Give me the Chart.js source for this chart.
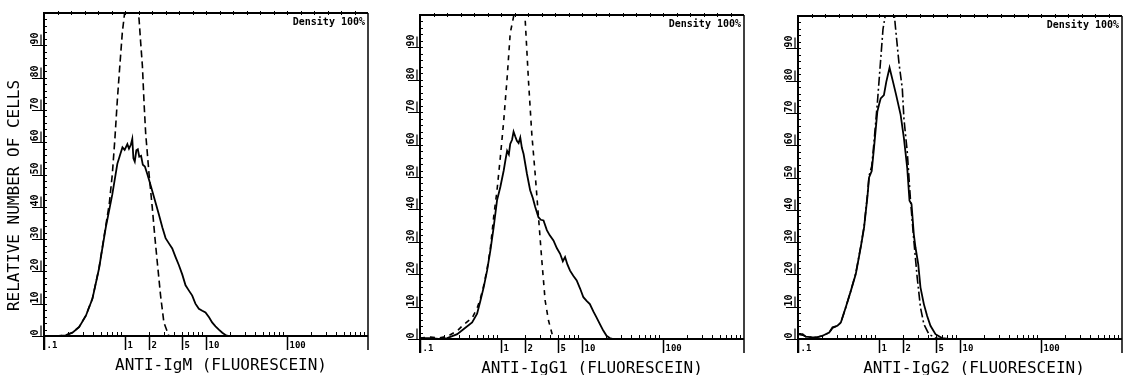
<!DOCTYPE html>
<html lang="en">
<head>
<meta charset="UTF-8">
<title>Anti-Ig fluorescein histograms</title>
<script src="https://cdn.jsdelivr.net/npm/chart.js"></script>
<style>
  body { margin: 0; background: #fff; }
  canvas { position: absolute; top: 0; }
</style>
</head>
<body>
<canvas id="igm" width="380" height="375" style="left:0px"></canvas>
<canvas id="igg1" width="380" height="375" style="left:380px"></canvas>
<canvas id="igg2" width="363" height="375" style="left:760px"></canvas>
<script>
// fluorescence (log scale) vs relative number of cells
const igmSolidX = [0.1, 0.15, 0.186, 0.224, 0.271, 0.328, 0.396, 0.478, 0.578, 0.698, 0.804, 0.88, 0.93, 0.99, 1.07, 1.12, 1.18, 1.23, 1.27, 1.32, 1.38, 1.44, 1.5, 1.58, 1.66, 1.76, 1.88, 2.0, 2.17, 2.4, 2.62, 2.9, 3.17, 3.5, 3.83, 4.2, 4.63, 5.1, 5.59, 6.1, 6.76, 7.4, 8.16, 9.0, 9.86, 10.9, 11.9, 13.1, 14.4, 15.9, 17.4, 19.0, 21.0, 1000];
const igmSolidY = [0, 0, 0.2, 1.0, 2.7, 6.2, 11.5, 20.9, 33.5, 43.9, 53.3, 56.5, 58.4, 57.6, 59.4, 58.0, 59.2, 61.0, 55.0, 54.0, 57.5, 57.8, 55.5, 55.8, 53.0, 52.5, 50.2, 48.0, 44.9, 41.0, 37.6, 33.5, 30.3, 28.6, 27.1, 24.5, 21.9, 19.0, 15.7, 14.2, 12.5, 10.0, 8.4, 7.8, 7.3, 5.8, 4.2, 3.0, 2.0, 1.0, 0.3, 0, 0, 0];
const igmCtrlX = [0.1, 0.15, 0.186, 0.224, 0.271, 0.328, 0.396, 0.478, 0.578, 0.64, 0.698, 0.75, 0.804, 0.865, 0.927, 1.0, 1.2, 1.42, 1.49, 1.56, 1.64, 1.72, 1.80, 1.98, 2.17, 2.35, 2.50, 2.75, 3.02, 3.48, 1000];
const igmCtrlY = [0, 0, 0.3, 1.1, 2.8, 6.3, 11.6, 21.0, 34.0, 41.0, 50.2, 61.0, 73.0, 84.0, 94.0, 101, 112, 101, 98.2, 91, 83.6, 72, 62.7, 50.2, 39.8, 30, 23.0, 12.5, 4.2, 0, 0];

const igg1SolidX = [0.1, 0.135, 0.17, 0.217, 0.288, 0.347, 0.44, 0.507, 0.557, 0.612, 0.673, 0.739, 0.813, 0.893, 0.981, 1.08, 1.14, 1.19, 1.25, 1.30, 1.37, 1.43, 1.50, 1.57, 1.65, 1.73, 1.81, 1.90, 2.09, 2.29, 2.47, 2.64, 2.90, 3.1, 3.35, 3.68, 4.0, 4.44, 4.9, 5.37, 5.8, 6.18, 6.6, 7.12, 7.8, 8.6, 9.5, 10.4, 11.4, 12.5, 13.8, 15.1, 16.7, 18.3, 20.1, 22, 24.3, 1000];
const igg1SolidY = [0.3, 0.3, 0, 0.3, 1.5, 3.1, 5.1, 7.8, 11.8, 16.0, 21.1, 27.3, 34.6, 42.8, 46.9, 52.0, 55.5, 58.1, 57.0, 60.2, 61.5, 64.0, 62.5, 61.2, 60.5, 62.2, 59.0, 57.1, 51.0, 45.9, 43.5, 40.8, 37.6, 36.8, 36.6, 33.6, 32.0, 30.4, 28.0, 26.3, 24.0, 25.3, 23.0, 21.1, 19.5, 18.1, 15.5, 12.9, 11.8, 10.8, 8.5, 6.7, 4.5, 2.6, 1.0, 0.3, 0, 0];
const igg1CtrlX = [0.1, 0.135, 0.17, 0.217, 0.288, 0.347, 0.44, 0.507, 0.557, 0.612, 0.673, 0.739, 0.813, 0.893, 0.981, 1.08, 1.19, 1.30, 1.43, 1.7, 1.99, 2.19, 2.40, 2.64, 2.90, 3.19, 3.51, 3.86, 4.44, 1000];
const igg1CtrlY = [0.3, 0.6, 0.3, 0.8, 2.5, 4.5, 6.5, 9.5, 12.5, 16.5, 21.5, 28.0, 37.8, 45.9, 56.1, 67.3, 80.6, 94.4, 99.5, 112, 98.4, 79.2, 63.3, 51.0, 37.8, 24.3, 11.8, 5.7, 0, 0];

const igg2SolidX = [0.1, 0.114, 0.125, 0.151, 0.175, 0.201, 0.243, 0.267, 0.307, 0.338, 0.389, 0.449, 0.517, 0.595, 0.654, 0.719, 0.754, 0.813, 0.868, 0.954, 1.0, 1.05, 1.15, 1.23, 1.35, 1.49, 1.63, 1.85, 2.03, 2.23, 2.38, 2.52, 2.69, 2.82, 3.05, 3.25, 3.58, 3.93, 4.32, 4.98, 6.01, 7.26, 1000];
const igg2SolidY = [1.5, 1.5, 0.7, 0.5, 0.6, 1.0, 2.0, 3.6, 4.1, 5.1, 9.8, 14.9, 20.1, 28.4, 34.5, 43.9, 50.0, 52.0, 59.2, 70.4, 72.5, 74.5, 75.5, 79.6, 84.0, 79.6, 75.5, 69.4, 62.2, 53.0, 42.8, 41.8, 32.4, 28.4, 23.2, 16.0, 10.8, 7.1, 4.1, 1.5, 0.3, 0, 0];
const igg2CtrlX = [0.1, 0.114, 0.125, 0.151, 0.175, 0.201, 0.243, 0.267, 0.307, 0.338, 0.389, 0.449, 0.517, 0.595, 0.654, 0.719, 0.754, 0.813, 0.868, 0.954, 1.05, 1.12, 1.21, 1.4, 1.60, 1.76, 1.94, 2.03, 2.23, 2.45, 2.69, 2.96, 3.25, 3.58, 4.12, 4.98, 6.0, 1000];
const igg2CtrlY = [1.5, 1.2, 0.7, 0.5, 0.6, 1.0, 2.0, 3.4, 4.1, 5.1, 9.8, 14.9, 20.4, 28.6, 34.8, 44.5, 50.5, 53.5, 61.0, 73.0, 86.7, 95.9, 101, 112, 96.3, 85.7, 77.5, 68.3, 58.1, 42.8, 30.6, 19.1, 9.8, 4.6, 1.5, 0.3, 0, 0];

const xTickValues = [0.1, 1, 2, 5, 10, 100];
const xTickLabels = ['.1', '1', '2', '5', '10', '100'];
const yTickValues = [0, 10, 20, 30, 40, 50, 60, 70, 80, 90];

function points(xs, ys) {
    return xs.map((x, i) => ({ x: x, y: ys[i] }));
}

// box, ticks and printed labels in the style of the cytometer printout
const frame = {
    id: 'frame',
    afterDraw(chart, args, opts) {
        const ctx = chart.ctx;
        const a = chart.chartArea;
        const xs = chart.scales.x;
        const ys = chart.scales.y;
        ctx.save();
        ctx.strokeStyle = '#000';
        ctx.fillStyle = '#000';

        ctx.lineWidth = 2;
        ctx.beginPath();
        ctx.moveTo(a.left - 1, a.top); ctx.lineTo(a.right, a.top);
        ctx.moveTo(a.left, a.top); ctx.lineTo(a.left, a.bottom + 14);
        ctx.moveTo(a.left - 1, a.bottom); ctx.lineTo(a.right, a.bottom);
        ctx.stroke();
        ctx.lineWidth = 1.5;
        ctx.beginPath();
        ctx.moveTo(a.right, a.top); ctx.lineTo(a.right, a.bottom + 14);
        ctx.stroke();

        // log minor ticks along the bottom
        ctx.lineWidth = 1;
        ctx.beginPath();
        [0.1, 1, 10, 100].forEach(d => {
            for (let k = 2; k <= 9; k++) {
                const px = Math.round(xs.getPixelForValue(k * d)) + 0.5;
                ctx.moveTo(px, a.bottom); ctx.lineTo(px, a.bottom - 4);
            }
        });
        // evenly spaced ticks along the top
        for (let k = 1; k < 24; k++) {
            const px = Math.round(xs.getPixelForValue(Math.pow(10, -1 + k / 6))) + 0.5;
            ctx.moveTo(px, a.top - 2); ctx.lineTo(px, a.top + 2);
        }
        ctx.stroke();

        // labelled x ticks
        ctx.lineWidth = 1.5;
        ctx.font = 'bold 9px "DejaVu Sans Mono"';
        ctx.textAlign = 'left';
        ctx.textBaseline = 'top';
        xTickValues.forEach((v, i) => {
            const px = Math.round(xs.getPixelForValue(v)) + 0.5;
            ctx.beginPath();
            ctx.moveTo(px, a.bottom); ctx.lineTo(px, a.bottom + 14);
            ctx.stroke();
            ctx.fillText(xTickLabels[i], px + 2, a.bottom + 5);
        });

        // y ticks: minor every 2, labelled every 10
        ctx.lineWidth = 1;
        ctx.beginPath();
        for (let v = 2; v < 100; v += 2) {
            const py = Math.round(ys.getPixelForValue(v)) + 0.5;
            ctx.moveTo(a.left, py); ctx.lineTo(a.left + 3, py);
        }
        ctx.stroke();
        ctx.lineWidth = 1.2;
        ctx.font = 'bold 10px "DejaVu Sans Mono"';
        ctx.textBaseline = 'middle';
        yTickValues.forEach(v => {
            const py = Math.round(ys.getPixelForValue(v)) + 0.5;
            ctx.beginPath();
            ctx.moveTo(a.left - 12, py); ctx.lineTo(a.left + 3, py);
            ctx.moveTo(a.left - 3, py); ctx.lineTo(a.left - 3, py - 11);
            ctx.stroke();
            ctx.save();
            ctx.translate(a.left - 9, py - 1);
            ctx.rotate(-Math.PI / 2);
            ctx.fillText(String(v), 0, 0);
            ctx.restore();
        });

        ctx.font = 'bold 10px "DejaVu Sans Mono"';
        ctx.textAlign = 'right';
        ctx.fillText('Density 100%', a.right - 3, a.top + 9);

        ctx.font = '16px "DejaVu Sans Mono"';
        ctx.textAlign = 'center';
        ctx.fillText(opts.title, (a.left + a.right) / 2 + opts.titleShift, a.bottom + 30);
        if (opts.yTitle) {
            ctx.save();
            ctx.translate(a.left - 29, (a.top + a.bottom) / 2 + 21);
            ctx.rotate(-Math.PI / 2);
            ctx.fillText(opts.yTitle, 0, 0);
            ctx.restore();
        }
        ctx.restore();
    }
};

function makeChart(id, solid, ctrl, dash, pad, title, titleShift, yTitle) {
    return new Chart(document.getElementById(id).getContext('2d'), {
        type: 'line',
        data: {
            datasets: [
                { data: solid, borderColor: '#000', borderWidth: 1.8 },
                { data: ctrl, borderColor: '#000', borderWidth: 1.6, borderDash: dash }
            ]
        },
        options: {
            responsive: false,
            animation: false,
            parsing: false,
            layout: { padding: pad },
            elements: { point: { radius: 0 }, line: { tension: 0 } },
            scales: {
                x: { type: 'logarithmic', min: 0.1, max: 1000, display: false },
                y: { type: 'linear', min: 0, max: 100, display: false }
            },
            plugins: {
                legend: { display: false },
                tooltip: { enabled: false },
                frame: { title: title, titleShift: titleShift, yTitle: yTitle }
            }
        },
        plugins: [frame]
    });
}

makeChart('igm', points(igmSolidX, igmSolidY), points(igmCtrlX, igmCtrlY), [7, 4],
    { left: 44, right: 12, top: 13, bottom: 39 }, 'ANTI-IgM (FLUORESCEIN)', 15, 'RELATIVE NUMBER OF CELLS');
makeChart('igg1', points(igg1SolidX, igg1SolidY), points(igg1CtrlX, igg1CtrlY), [5, 5],
    { left: 40, right: 16, top: 15, bottom: 36 }, 'ANTI-IgG1 (FLUORESCEIN)', 10, null);
makeChart('igg2', points(igg2SolidX, igg2SolidY), points(igg2CtrlX, igg2CtrlY), [9, 3, 2, 3],
    { left: 38, right: 1, top: 16, bottom: 36 }, 'ANTI-IgG2 (FLUORESCEIN)', 14, null);
</script>
</body>
</html>
